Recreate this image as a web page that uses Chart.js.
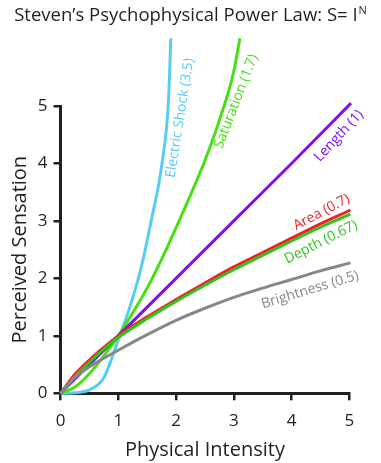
<!DOCTYPE html>
<html>
<head>
<meta charset="utf-8">
<script src="https://cdn.jsdelivr.net/npm/chart.js@4/dist/chart.umd.min.js"></script>
<style>
  html, body { margin: 0; padding: 0; background: #ffffff; }
  #wrap { position: relative; width: 381px; height: 463px; }
</style>
</head>
<body>
<div id="wrap"><canvas id="c" width="381" height="463"></canvas></div>
<script>
// ---- Data ----
const titleText = "Steven\u2019s Psychophysical Power Law: S= I";
const titleSup = "N";
const xAxisTitle = "Physical Intensity";
const yAxisTitle = "Perceived Sensation";
const tickValues = [0, 1, 2, 3, 4, 5];

const shockIntensity = [0, 0.25, 0.5, 0.75, 1, 1.2, 1.4, 1.58, 1.75, 1.87, 1.91];
const shockSensation = [0, 0.01, 0.06, 0.27, 0.93, 1.5, 2.2, 3.05, 3.95, 5.1, 6.18];

const saturationIntensity = [0, 0.25, 0.5, 0.75, 1, 1.25, 1.5, 1.75, 2, 2.25, 2.5, 2.75, 3, 3.105];
const saturationSensation = [0, 0.11, 0.34, 0.65, 1.0, 1.4, 1.83, 2.33, 2.88, 3.45, 4.05, 4.75, 5.6, 6.18];

const lengthIntensity = [0, 1, 2, 3, 4, 5.03];
const lengthSensation = [0, 1, 2, 3, 4, 5.05];

const commonIntensity = [0, 0.25, 0.5, 0.75, 1, 1.5, 2, 2.5, 3, 3.5, 4, 4.5, 5.02];
const areaSensation       = [0, 0.33, 0.58, 0.8, 1.0, 1.33, 1.63, 1.92, 2.2, 2.45, 2.7, 2.95, 3.19];
const depthSensation      = [0, 0.29, 0.54, 0.77, 0.97, 1.3, 1.6, 1.88, 2.15, 2.4, 2.65, 2.89, 3.12];
const brightnessSensation = [0, 0.28, 0.46, 0.61, 0.75, 1.02, 1.27, 1.48, 1.67, 1.83, 1.98, 2.13, 2.27];

const seriesNames  = ["Electric Shock (3.5)", "Saturation (1.7)", "Length (1)", "Area (0.7)", "Depth (0.67)", "Brightness (0.5)"];
const seriesColors = ["#55cdf6", "#44e011", "#7f10f0", "#f41f26", "#2fc41c", "#878787"];
// label anchor positions (data units) and angles
const labelX     = [2.07, 3.04, 4.82, 4.52, 4.51, 4.32];
const labelY     = [4.79, 5.08, 4.48, 3.15, 2.63, 1.80];
const labelAngle = [-81, -69, -47, -28, -27, -17];

function pts(xs, ys) { return xs.map((x, i) => ({ x: x, y: ys[i] })); }

const seriesData = [
  pts(shockIntensity, shockSensation),
  pts(saturationIntensity, saturationSensation),
  pts(lengthIntensity, lengthSensation),
  pts(commonIntensity, areaSensation),
  pts(commonIntensity, depthSensation),
  pts(commonIntensity, brightnessSensation)
];

const INK = "#231f20";
const FONT = "'Open Sans', 'Noto Sans', sans-serif";

// draw order: brightness, depth, area, length, saturation, shock (shock on top)
const order = [5, 4, 3, 2, 1, 0];
const datasets = order.map(i => ({
  label: seriesNames[i],
  data: seriesData[i],
  borderColor: seriesColors[i],
  backgroundColor: seriesColors[i],
  borderWidth: 3,
  pointRadius: 0,
  fill: false,
  cubicInterpolationMode: 'monotone',
  clip: false
}));

const titlePlugin = {
  id: 'titlePlugin',
  afterDraw(chart) {
    const ctx = chart.ctx;
    ctx.save();
    ctx.fillStyle = INK;
    ctx.textBaseline = 'alphabetic';
    ctx.textAlign = 'left';
    ctx.font = "18.5px " + FONT;
    const w1 = ctx.measureText(titleText).width;
    ctx.font = "11px " + FONT;
    const w2 = ctx.measureText(titleSup).width;
    const total = w1 + w2 + 1;
    const x0 = 190.5 - total / 2;
    ctx.font = "18.5px " + FONT;
    ctx.fillText(titleText, x0, 21);
    ctx.font = "11px " + FONT;
    ctx.fillText(titleSup, x0 + w1 + 1, 14);
    ctx.restore();
  }
};

const curveLabels = {
  id: 'curveLabels',
  afterDatasetsDraw(chart) {
    const ctx = chart.ctx;
    const xs = chart.scales.x, ys = chart.scales.y;
    ctx.save();
    ctx.textAlign = 'center';
    ctx.textBaseline = 'middle';
    for (let i = 0; i < seriesNames.length; i++) {
      const px = xs.getPixelForValue(labelX[i]);
      const py = ys.getPixelForValue(labelY[i]);
      ctx.save();
      ctx.translate(px, py);
      ctx.rotate(labelAngle[i] * Math.PI / 180);
      ctx.fillStyle = seriesColors[i];
      ctx.font = "14px " + FONT;
      ctx.fillText(seriesNames[i], 0, 0);
      ctx.restore();
    }
    ctx.restore();
  }
};

new Chart(document.getElementById('c'), {
  type: 'line',
  data: { datasets: datasets },
  plugins: [curveLabels, titlePlugin],
  options: {
    responsive: false,
    animation: false,
    devicePixelRatio: 1,
    layout: { padding: { top: 106, right: 31.7, left: 0, bottom: 0 } },
    plugins: { legend: { display: false }, tooltip: { enabled: false }, title: { display: false } },
    scales: {
      x: {
        type: 'linear',
        min: 0, max: 5,
        afterFit(s) { s.height = 69.7; },
        afterBuildTicks(s) { s.ticks = tickValues.map(v => ({ value: v })); },
        border: { display: true, color: INK, width: 3 },
        grid: { drawOnChartArea: false, drawTicks: true, tickLength: 7, color: INK, lineWidth: 2.5 },
        ticks: { color: INK, font: { family: FONT, size: 17 }, padding: 11, maxRotation: 0 },
        title: { display: true, text: xAxisTitle, color: INK, font: { family: FONT, size: 20 }, padding: { top: 0, bottom: 1 } }
      },
      y: {
        type: 'linear',
        min: 0, max: 5,
        afterFit(s) { s.width = 60.5; },
        afterBuildTicks(s) { s.ticks = tickValues.map(v => ({ value: v })); },
        border: { display: true, color: INK, width: 3 },
        grid: { drawOnChartArea: false, drawTicks: true, tickLength: 7, color: INK, lineWidth: 2.5 },
        ticks: { color: INK, font: { family: FONT, size: 17 }, padding: 6 },
        title: { display: true, text: yAxisTitle, color: INK, font: { family: FONT, size: 20 }, padding: { top: 8, bottom: 0 } }
      }
    }
  }
});
</script>
</body>
</html>
